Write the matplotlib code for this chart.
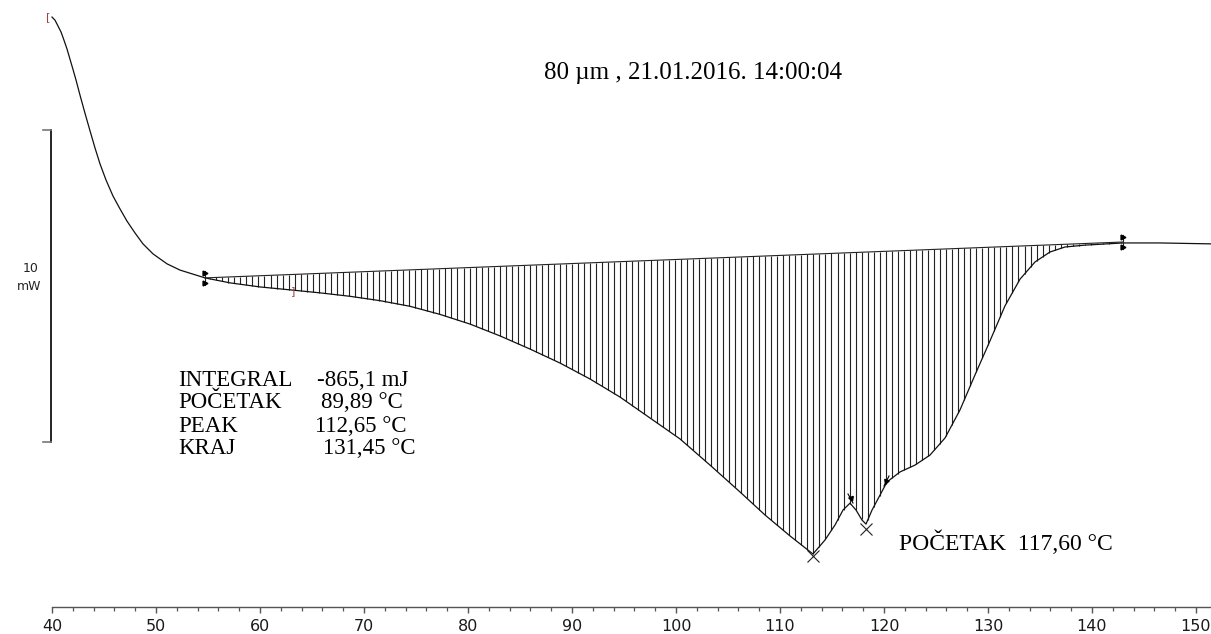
import numpy as np
import matplotlib
matplotlib.use("Agg")
import matplotlib.pyplot as plt
from matplotlib.ticker import FixedLocator

# ---- data (temperature in °C, heat flow in mW, relative) ----
temp = [40.0, 40.29, 40.58, 40.87, 41.15, 41.44, 41.73, 42.02, 42.31, 42.69, 43.17,
        43.65, 44.13, 44.62, 45.19, 45.87, 46.54, 47.21, 47.98, 48.75, 49.71,
        51.06, 52.31, 53.56, 54.71,
        57.12, 60.0, 63.08, 65.77, 68.65, 71.54, 74.42, 77.31, 80.19, 83.08,
        85.96, 88.85, 91.73, 94.62, 97.5, 100.38, 103.27, 106.15, 108.56, 110.96,
        113.17, 114.33, 115.29, 116.06, 116.73, 117.31, 117.88, 118.27, 118.85,
        119.62, 120.29, 121.54, 122.98, 124.42, 125.87, 127.31, 128.75, 130.19,
        131.63, 133.08, 134.52, 135.96, 137.4, 139.33, 142.98, 146.54, 151.44]
heat = [13.62, 13.52, 13.33, 13.14, 12.88, 12.6, 12.27, 11.94, 11.6, 11.12, 10.54,
        9.98, 9.43, 8.91, 8.4, 7.88, 7.47, 7.08, 6.7, 6.35, 6.03,
        5.71, 5.51, 5.38, 5.26,
        5.1, 4.97, 4.87, 4.78, 4.67, 4.53, 4.35, 4.09, 3.78, 3.4,
        2.98, 2.53, 2.02, 1.44, 0.77, 0.1, -0.74, -1.6, -2.34, -3.01,
        -3.59, -3.14, -2.66, -2.18, -1.96, -2.18, -2.5, -2.63, -2.18,
        -1.7, -1.28, -0.96, -0.74, -0.42, 0.13, 1.03, 2.15, 3.24,
        4.36, 5.22, 5.77, 6.09, 6.25, 6.31, 6.38, 6.38, 6.35]

onset_T, end_T = 54.71, 143.0          # integration limits
onset_base, end_base = 5.26, 6.41      # baseline heat flow at the limits
peak_T, peak_q = 113.17, -3.59
shoulder_T, shoulder_q = 118.27, -2.63

xticks_major = [40, 50, 60, 70, 80, 90, 100, 110, 120, 130, 140, 150]
xticks_minor = list(range(40, 152, 2))
title = "80 µm , 21.01.2016. 14:00:04"
res_names = ["INTEGRAL", "POČETAK", "PEAK", "KRAJ"]
res_vals = ["-865,1 mJ", "89,89 °C", "112,65 °C", "131,45 °C"]
second = "POČETAK  117,60 °C"

# ---- figure ----
W, H = 1211, 634
fig = plt.figure(figsize=(W / 100, H / 100), dpi=100)
ax = fig.add_axes([0, 0, 1, 1])
px_per_deg = 10.4
x0 = 40 - 52 / px_per_deg
x1 = 40 + (W - 52) / px_per_deg
px_per_mw = 31.2
y_top = 442 / px_per_mw
y_bot = (442 - H) / px_per_mw
ax.set_xlim(x0, x1)
ax.set_ylim(y_bot, y_top)

def ypx(py):
    return (442 - py) / px_per_mw

def xpx(px):
    return 40 + (px - 52) / px_per_deg

for s in ["top", "right", "left"]:
    ax.spines[s].set_visible(False)
ax.spines["bottom"].set_position(("data", ypx(607)))
ax.spines["bottom"].set_bounds(40, x1)
ax.spines["bottom"].set_color("#555555")
ax.spines["bottom"].set_linewidth(1.0)
ax.xaxis.set_major_locator(FixedLocator(xticks_major))
ax.xaxis.set_minor_locator(FixedLocator([t for t in xticks_minor if t not in xticks_major]))
ax.tick_params(axis="x", which="major", direction="out", length=4.5, width=1.0,
               color="#555555", labelsize=11.5, pad=4, labelcolor="#1a1a1a")
ax.tick_params(axis="x", which="minor", direction="out", length=2.8, width=0.9,
               color="#555555")
ax.set_yticks([])
ax.patch.set_alpha(0)

T = np.array(temp)
Q = np.array(heat)

# curve
ax.plot(T, Q, color="#111111", lw=0.9, zorder=3)

# baseline
ax.plot([onset_T, end_T], [onset_base, end_base], color="#222222", lw=0.8, zorder=3)

# hatching
hx = np.arange(onset_T + 0.5, end_T, 0.58)
base = onset_base + (end_base - onset_base) * (hx - onset_T) / (end_T - onset_T)
curve = np.interp(hx, T, Q)
mask = curve < base - 0.02
ax.vlines(hx[mask], curve[mask], base[mask], color="#222222", lw=0.8, zorder=2)

# integration limit markers
for t, q in [(onset_T, onset_base), (end_T, end_base)]:
    ax.plot([t, t], [q - 0.22, q + 0.22], color="#222222", lw=0.8, zorder=4)
    ax.plot(t, q + 0.17, marker=">", ms=3.5, color="black", zorder=4)
    ax.plot(t, q - 0.17, marker=">", ms=3.5, color="black", zorder=4)

# small arrows near shoulder
ax.plot(xpx(851), ypx(498), marker=(3, 0, 200), ms=4, color="black", zorder=4)
ax.plot([xpx(848), xpx(853)], [ypx(494), ypx(503)], color="black", lw=0.8, zorder=4)
ax.plot(xpx(886), ypx(481), marker=(3, 0, 160), ms=4, color="black", zorder=4)
ax.plot([xpx(884), xpx(889)], [ypx(486), ypx(476)], color="black", lw=0.8, zorder=4)

# X marks at peaks
ax.plot(peak_T, peak_q - 0.05, marker="x", ms=8, mew=0.8, color="#222222", zorder=4)
ax.plot(shoulder_T, shoulder_q - 0.15, marker="x", ms=9, mew=0.8, color="#222222", zorder=4)

# red brackets
ax.text(xpx(48), ypx(17), "[", color="#a04040", fontsize=8, ha="center", va="center")
ax.text(xpx(293), ypx(291), "]", color="#a04040", fontsize=8, ha="center", va="center")

# scale bar
ax.plot([xpx(51), xpx(51)], [ypx(130), ypx(442)], color="black", lw=1.2, clip_on=False)
ax.plot([xpx(43), xpx(51)], [ypx(130), ypx(130)], color="#777777", lw=1.2)
ax.plot([xpx(43), xpx(51)], [ypx(442), ypx(442)], color="#777777", lw=1.2)
ax.text(xpx(31), ypx(269), "10", fontsize=9, ha="center", va="center", color="#222222")
ax.text(xpx(29), ypx(286), "mW", fontsize=9, ha="center", va="center", color="#222222")

serif = "Liberation Serif"
ax.text(xpx(693), ypx(73), title, fontsize=18, family=serif, ha="center", va="center")
val_x = [317, 321, 315, 323]
for i, (n, v) in enumerate(zip(res_names, res_vals)):
    yy = ypx(380 + 23 * i)
    ax.text(xpx(178), yy, n, fontsize=16.5, family=serif, ha="left", va="center")
    ax.text(xpx(val_x[i]), yy, v, fontsize=16.5, family=serif, ha="left", va="center")
ax.text(xpx(899), ypx(543), second, fontsize=17, family=serif, ha="left", va="center")

fig.savefig("out.png", dpi=100, facecolor="white")
